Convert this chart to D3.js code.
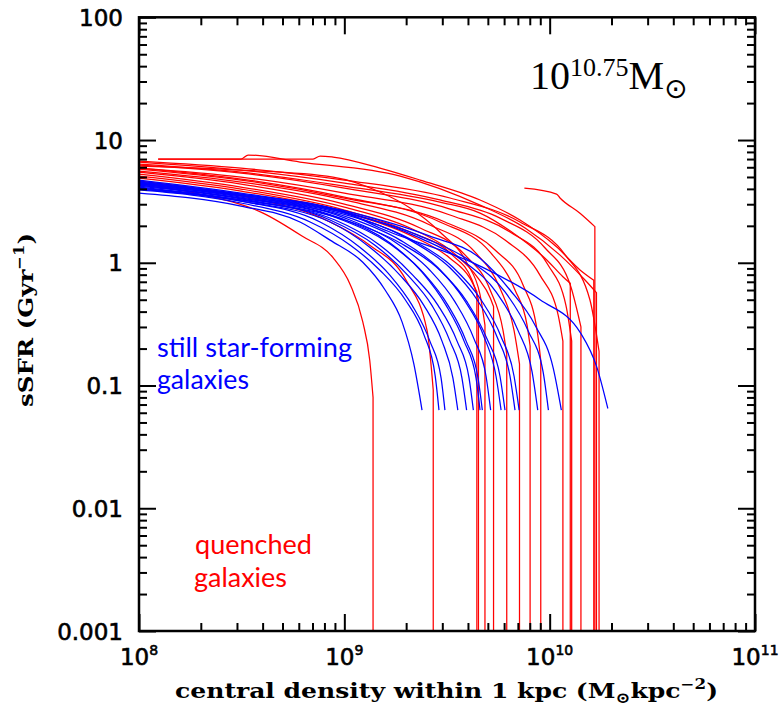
<!DOCTYPE html>
<html><head><meta charset="utf-8">
<script src="https://cdn.jsdelivr.net/npm/d3@7"></script>
<style>body{margin:0;background:#fff}svg{display:block}</style>
</head><body><svg id="c" width="782" height="709"></svg>
<script>
const xDomain=[1e8,1e11], yDomain=[1e-3,1e2];
const xMajor=[1e8,1e9,1e10,1e11];
const xExponents=["8","9","10","11"];
const yMajor=[0.001,0.01,0.1,1,10,100];
const yLabels=["0.001","0.01","0.1","1","10","100"];

// still star-forming galaxies (blue)
const blueTracks=[
[[1e8,3.70],[3.14e8,2.90],[6.08e8,2.15],[8.52e8,1.53],[1.23e9,1.01],[1.58e9,0.60],[1.91e9,0.33],[2.18e9,0.15],[2.39e9,0.063]],
[[1e8,3.92],[3.14e8,3.07],[6.81e8,2.15],[1.07e9,1.39],[1.49e9,0.87],[1.98e9,0.50],[2.44e9,0.26],[2.77e9,0.12],[2.89e9,0.063]],
[[1e8,4.06],[3.14e8,3.18],[7.62e8,2.15],[1.19e9,1.34],[1.67e9,0.79],[2.14e9,0.45],[2.61e9,0.23],[2.96e9,0.115],[3.09e9,0.063]],
[[1e8,3.99],[3.14e8,3.18],[8.52e8,2.15],[1.33e9,1.34],[1.87e9,0.79],[2.44e9,0.45],[2.99e9,0.23],[3.38e9,0.115],[3.57e9,0.063]],
[[1e8,4.22],[3.14e8,3.31],[8.52e8,2.23],[1.41e9,1.39],[2.04e9,0.79],[2.67e9,0.45],[3.27e9,0.23],[3.74e9,0.115],[3.94e9,0.063]],
[[1e8,4.14],[3.14e8,3.25],[9.01e8,2.23],[1.49e9,1.39],[2.16e9,0.79],[2.86e9,0.45],[3.54e9,0.23],[4.05e9,0.115],[4.25e9,0.063]],
[[1e8,4.38],[3.14e8,3.43],[9.53e8,2.31],[1.67e9,1.45],[2.39e9,0.84],[3.13e9,0.45],[3.83e9,0.23],[4.38e9,0.115],[4.58e9,0.063]],
[[1e8,4.30],[3.14e8,3.37],[9.53e8,2.27],[1.67e9,1.42],[2.44e9,0.82],[3.20e9,0.45],[3.92e9,0.23],[4.48e9,0.115],[4.70e9,0.063]],
[[1e8,4.46],[3.14e8,3.50],[1.01e9,2.31],[1.77e9,1.47],[2.61e9,0.87],[3.46e9,0.48],[4.28e9,0.24],[4.90e9,0.119],[5.16e9,0.063]],
[[1e8,4.30],[3.14e8,3.37],[1.07e9,2.31],[1.87e9,1.53],[2.86e9,0.91],[3.83e9,0.50],[4.79e9,0.25],[5.48e9,0.119],[5.80e9,0.063]],
[[1e8,4.06],[3.14e8,3.25],[1.01e9,2.23],[1.87e9,1.45],[2.92e9,0.87],[3.96e9,0.48],[4.95e9,0.24],[5.73e9,0.119],[6.06e9,0.063]],
[[1e8,4.55],[3.14e8,3.56],[1.07e9,2.45],[2.09e9,1.53],[3.27e9,0.91],[4.43e9,0.50],[5.54e9,0.25],[6.41e9,0.119],[6.78e9,0.063]],
[[1e8,4.38],[3.14e8,3.50],[1.07e9,2.40],[2.14e9,1.53],[3.38e9,0.92],[4.63e9,0.50],[5.80e9,0.25],[6.71e9,0.119],[7.10e9,0.063]],
[[1e8,4.63],[3.14e8,3.63],[1.07e9,2.54],[2.34e9,1.59],[3.87e9,1.01],[5.48e9,0.58],[7.02e9,0.28],[8.21e9,0.129],[8.75e9,0.063]],
[[1e8,4.46],[3.14e8,3.56],[1.07e9,2.49],[2.47e9,1.59],[4.19e9,1.01],[6.06e9,0.58],[7.85e9,0.28],[9.29e9,0.129],[9.86e9,0.063]],
[[1e8,4.72],[3.14e8,3.70],[1.07e9,2.59],[2.61e9,1.65],[4.58e9,1.09],[6.41e9,0.60],[8.49e9,0.31],[1.04e10,0.139],[1.14e10,0.063]],
[[1e8,4.55],[3.14e8,3.63],[1.0e9,2.59],[1.49e9,1.92],[4.58e9,0.94],[8.98e9,0.50],[1.41e10,0.27],[1.70e10,0.14],[1.92e10,0.065]]
];

// quenched galaxies (red): last point is the vertical drop
const redTracks=[
[[1e8,4.46],[1.98e8,3.63],[4.02e8,2.54],[6.22e8,1.65],[8.81e8,1.1],[1.07e9,0.66],[1.23e9,0.33],[1.33e9,0.16],[1.38e9,0.08],[1.38e9,0.001]],
[[1e8,4.63],[3.14e8,3.50],[8.52e8,2.15],[1.33e9,1.39],[2.0e9,0.72],[2.53e9,0.28],[2.71e9,0.092],[2.71e9,0.001]],
[[1e8,4.90],[3.14e8,3.84],[1.0e9,2.59],[2.09e9,1.68],[3.27e9,1.09],[4.09e9,0.75],[4.42e9,0.58],[4.42e9,0.001]],
[[1e8,5.09],[3.14e8,3.99],[1.0e9,2.69],[2.09e9,1.78],[3.35e9,1.16],[4.19e9,0.72],[4.50e9,0.50],[4.50e9,0.001]],
[[1e8,6.14],[3.14e8,5.69],[8.81e8,4.99],[1.49e9,3.77],[2.09e9,2.79],[2.92e9,1.78],[3.96e9,0.99],[4.58e9,0.55],[4.84e9,0.31],[4.84e9,0.001]],
[[1e8,5.28],[3.14e8,4.14],[1.0e9,2.84],[2.09e9,1.92],[3.27e9,1.27],[4.48e9,0.75],[5.13e9,0.52],[5.33e9,0.44],[5.33e9,0.001]],
[[1e8,5.48],[3.14e8,4.38],[1.0e9,3.01],[2.34e9,1.92],[3.87e9,1.16],[5.13e9,0.60],[5.93e9,0.28],[6.18e9,0.18],[6.18e9,0.001]],
[[1e8,5.58],[3.14e8,4.55],[1.0e9,3.25],[2.61e9,2.03],[4.33e9,1.22],[5.73e9,0.62],[6.71e9,0.28],[7.13e9,0.15],[7.13e9,0.001]],
[[1e8,5.91],[3.14e8,4.81],[1.0e9,3.43],[2.92e9,2.15],[5.13e9,1.22],[6.78e9,0.60],[7.76e9,0.31],[8.03e9,0.21],[8.03e9,0.001]],
[[1e8,5.80],[3.14e8,4.72],[1.0e9,3.37],[3.09e9,2.15],[5.42e9,1.27],[7.42e9,0.66],[8.69e9,0.28],[9.05e9,0.16],[9.05e9,0.001]],
[[1e8,5.91],[3.14e8,4.99],[1.0e9,3.70],[3.27e9,2.45],[6.06e9,1.53],[8.98e9,0.79],[1.10e10,0.375],[1.16e10,0.23],[1.16e10,0.001]],
[[1e8,6.25],[3.14e8,5.38],[1.0e9,4.06],[3.27e9,2.74],[6.41e9,1.78],[9.82e9,0.96],[1.20e10,0.45],[1.28e10,0.23],[1.28e10,0.001]],
[[1e8,6.37],[3.14e8,5.48],[1.0e9,4.22],[2.92e9,3.12],[4.58e9,2.54],[6.64e9,1.75],[9.71e9,1.05],[1.16e10,0.77],[1.26e10,0.68],[1.26e10,0.001]],
[[1e8,6.62],[3.14e8,5.69],[1.0e9,4.46],[2.92e9,3.25],[5.73e9,2.31],[9.50e9,1.32],[1.26e10,0.66],[1.42e10,0.30],[1.42e10,0.001]],
[[1e8,6.74],[3.14e8,5.91],[1.0e9,4.72],[3.27e9,3.37],[7.17e9,2.15],[1.19e10,1.16],[1.57e10,0.50],[1.74e10,0.19],[1.74e10,0.001]],
[[1.24e8,7.0],[7.04e8,7.0],[7.62e8,7.41],[8.81e8,7.27],[1.49e9,5.91],[2.34e9,4.72],[4.58e9,3.25],[7.17e9,2.23],[1.08e10,1.35],[1.41e10,0.87],[1.64e10,0.72],[1.64e10,0.001]],
[[1.24e8,7.0],[3.14e8,7.0],[3.40e8,7.55],[6.08e8,6.62],[1.87e9,5.09],[4.58e9,2.95],[7.59e9,1.92],[1.12e10,1.16],[1.49e10,0.72],[1.69e10,0.57],[1.69e10,0.001]],
[[7.53e9,4.05],[1.08e10,3.63],[1.12e10,3.39],[1.41e10,2.52],[1.66e10,1.97],[1.66e10,0.001]]
];

const L=139,R=755,T=17.3,B=631;
const svg=d3.select("#c");
const x=d3.scaleLog().domain(xDomain).range([L,R]);
const y=d3.scaleLog().domain(yDomain).range([B,T]);

svg.append("defs").append("clipPath").attr("id","clip")
  .append("rect").attr("x",L).attr("y",T).attr("width",R-L).attr("height",B-T);

const line=d3.line().x(d=>x(d[0])).y(d=>y(d[1])).curve(d3.curveMonotoneX);
function trackPath(pts){
  const n=pts.length, last=pts[n-1], prev=pts[n-2];
  if(prev && last[0]===prev[0]){
    return line(pts.slice(0,-1))+"L"+x(last[0])+","+y(last[1]);
  }
  return line(pts);
}
const plot=svg.append("g").attr("clip-path","url(#clip)");
plot.selectAll("path.red").data(redTracks).join("path").attr("class","red")
  .attr("d",trackPath).attr("fill","none").attr("stroke","#ff0000").attr("stroke-width",1.25);
plot.selectAll("path.blue").data(blueTracks).join("path").attr("class","blue")
  .attr("d",trackPath).attr("fill","none").attr("stroke","#0000ff").attr("stroke-width",1.25);

// axes with inward ticks on all sides
const xMinor=x.ticks().filter(v=>!xMajor.some(m=>Math.abs(m-v)/m<1e-6));
const yMinor=y.ticks().filter(v=>!yMajor.some(m=>Math.abs(m-v)/m<1e-6));
function styleAxis(g){g.select(".domain").remove();g.selectAll("line").attr("stroke","#000").attr("stroke-width",2);g.selectAll("text").remove();}
svg.append("g").attr("transform",`translate(0,${B})`).call(d3.axisBottom(x).tickValues(xMinor).tickSize(-8).tickFormat("")).call(styleAxis);
svg.append("g").attr("transform",`translate(0,${B})`).call(d3.axisBottom(x).tickValues(xMajor).tickSize(-17).tickFormat("")).call(styleAxis);
svg.append("g").attr("transform",`translate(0,${T})`).call(d3.axisTop(x).tickValues(xMinor).tickSize(-8).tickFormat("")).call(styleAxis);
svg.append("g").attr("transform",`translate(0,${T})`).call(d3.axisTop(x).tickValues(xMajor).tickSize(-17).tickFormat("")).call(styleAxis);
svg.append("g").attr("transform",`translate(${L},0)`).call(d3.axisLeft(y).tickValues(yMinor).tickSize(-8).tickFormat("")).call(styleAxis);
svg.append("g").attr("transform",`translate(${L},0)`).call(d3.axisLeft(y).tickValues(yMajor).tickSize(-17).tickFormat("")).call(styleAxis);
svg.append("g").attr("transform",`translate(${R},0)`).call(d3.axisRight(y).tickValues(yMinor).tickSize(-8).tickFormat("")).call(styleAxis);
svg.append("g").attr("transform",`translate(${R},0)`).call(d3.axisRight(y).tickValues(yMajor).tickSize(-17).tickFormat("")).call(styleAxis);
svg.append("rect").attr("x",L).attr("y",T).attr("width",R-L).attr("height",B-T)
  .attr("fill","none").attr("stroke","#000").attr("stroke-width",2.5);

// tick labels
const tickFont="DejaVu Sans";
svg.selectAll("text.yl").data(yMajor).join("text").attr("class","yl")
  .attr("x",123).attr("y",d=>y(d)).attr("dy","0.37em").attr("text-anchor","end")
  .attr("font-family",tickFont).attr("font-size",23).attr("fill","#000")
  .attr("stroke","#000").attr("stroke-width",0.6)
  .text((d,i)=>yLabels[i]);
xMajor.forEach((v,i)=>{
  const t=svg.append("text").attr("x",x(v)).attr("y",665).attr("text-anchor","middle")
    .attr("font-family",tickFont).attr("font-size",23).attr("fill","#000")
    .attr("stroke","#000").attr("stroke-width",0.6);
  t.append("tspan").text("10");
  t.append("tspan").attr("font-size",14).attr("dy",-10).text(xExponents[i]);
});

// axis titles
const xt=svg.append("text").attr("x",175).attr("y",698)
  .attr("font-family","DejaVu Serif").attr("font-weight","bold").attr("font-size",21).attr("fill","#000")
  .attr("textLength",543).attr("lengthAdjust","spacingAndGlyphs");
xt.append("tspan").text("central density within 1 kpc (M");
xt.append("tspan").attr("font-size",15).attr("dy",5).text("⊙");
xt.append("tspan").attr("dy",-5).text("kpc");
xt.append("tspan").attr("font-size",14).attr("dy",-9).text("−2");
xt.append("tspan").attr("dy",9).text(")");

const yt=svg.append("text").attr("transform","translate(33,320) rotate(-90)").attr("text-anchor","middle")
  .attr("font-family","DejaVu Serif").attr("font-weight","bold").attr("font-size",21).attr("fill","#000")
  .attr("textLength",174).attr("lengthAdjust","spacingAndGlyphs");
yt.append("tspan").text("sSFR (Gyr");
yt.append("tspan").attr("font-size",14).attr("dy",-9).text("−1");
yt.append("tspan").attr("dy",9).text(")");

// mass annotation
const ann=svg.append("text").attr("x",530).attr("y",89).attr("font-family","Liberation Serif").attr("font-size",40).attr("fill","#000");
ann.append("tspan").text("10");
ann.append("tspan").attr("font-size",26).attr("dy",-13).text("10.75");
ann.append("tspan").attr("dy",13).text("M");
ann.append("tspan").attr("font-family","DejaVu Sans").attr("font-size",28).attr("dy",9).text("⊙");

// legends
const lf="Lato";
svg.append("text").attr("x",157).attr("y",357).attr("font-family",lf).attr("font-size",26).attr("fill","#0000ff")
  .attr("textLength",195).attr("lengthAdjust","spacingAndGlyphs").text("still star-forming");
svg.append("text").attr("x",157).attr("y",389).attr("font-family",lf).attr("font-size",26).attr("fill","#0000ff")
  .attr("textLength",92).attr("lengthAdjust","spacingAndGlyphs").text("galaxies");
svg.append("text").attr("x",195).attr("y",554).attr("font-family",lf).attr("font-size",26).attr("fill","#ff0000")
  .attr("textLength",117).attr("lengthAdjust","spacingAndGlyphs").text("quenched");
svg.append("text").attr("x",194).attr("y",587).attr("font-family",lf).attr("font-size",26).attr("fill","#ff0000")
  .attr("textLength",93).attr("lengthAdjust","spacingAndGlyphs").text("galaxies");
</script></body></html>
